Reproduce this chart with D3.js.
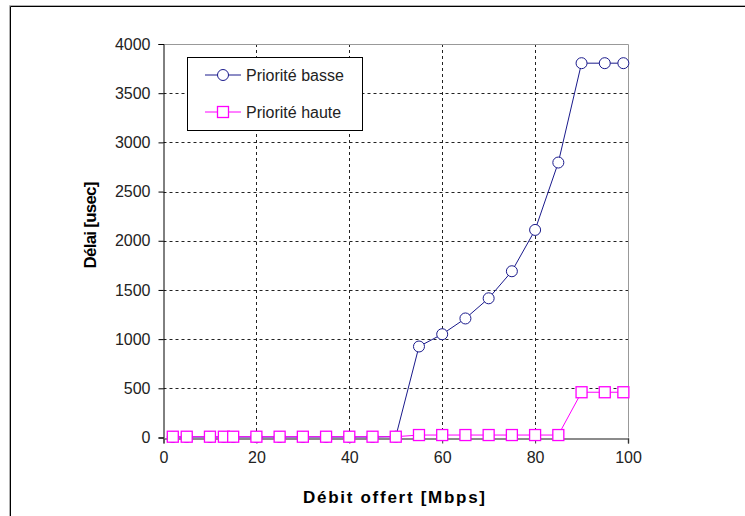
<!DOCTYPE html>
<html>
<head>
<meta charset="utf-8">
<script src="https://cdn.jsdelivr.net/npm/d3@7"></script>
<style>
  html, body { margin: 0; padding: 0; background: #fff; }
  svg { display: block; font-family: "Liberation Sans", Arial, sans-serif; }
</style>
</head>
<body>
<svg id="chart" width="745" height="516"></svg>
<script>
// Offered throughput (Mbps) at each measurement point
const debit = [2, 5, 10, 13, 15, 20, 25, 30, 35, 40, 45, 50, 55, 60, 65, 70, 75, 80, 85, 90, 95, 99];
// Delay (usec) for low-priority traffic
const prioriteBasse = [5, 5, 5, 5, 5, 5, 5, 5, 5, 5, 5, 8, 925, 1050, 1210, 1415, 1690, 2110, 2795, 3805, 3805, 3805];
// Delay (usec) for high-priority traffic
const prioriteHaute = [8, 8, 8, 8, 8, 8, 8, 8, 8, 8, 8, 8, 25, 25, 25, 25, 25, 25, 25, 460, 460, 460];
const xTicks = [0, 20, 40, 60, 80, 100];
const yTicks = [0, 500, 1000, 1500, 2000, 2500, 3000, 3500, 4000];
const seriesNames = ["Priorité basse", "Priorité haute"];

const svg = d3.select("#chart");

// outer frame with a light shadow on the top/left edge
svg.append("path").attr("d", "M9.5,516 V5.5 H745").attr("fill", "none").attr("stroke", "#b0b0b0");
svg.append("path").attr("d", "M10.5,516 V6.5 H745").attr("fill", "none").attr("stroke", "#000");

const x = d3.scaleLinear().domain([0, 100]).range([163.5, 628]);
const y = d3.scaleLinear().domain([0, 4000]).range([437.5, 44]);

const g = svg.append("g");

// dashed grid
g.selectAll(".vgrid").data(xTicks.filter(d => d > 0 && d < 100)).join("line")
  .attr("x1", d => Math.round(x(d)) + 0.5).attr("x2", d => Math.round(x(d)) + 0.5)
  .attr("y1", y(4000)).attr("y2", y(0))
  .attr("stroke", "#222").attr("stroke-dasharray", "3,3");
g.selectAll(".hgrid").data(yTicks.filter(d => d > 0 && d < 4000)).join("line")
  .attr("x1", x(0)).attr("x2", x(100))
  .attr("y1", d => Math.round(y(d)) + 0.5).attr("y2", d => Math.round(y(d)) + 0.5)
  .attr("stroke", "#222").attr("stroke-dasharray", "3,3");

// plot-area border (top and right)
g.append("path")
  .attr("d", `M${x(0)},${Math.round(y(4000)) + 0.5} H${Math.round(x(100)) + 0.5} V${y(0)}`)
  .attr("fill", "none").attr("stroke", "#999");

// axes
const fmt = d3.format("d");
const xAxis = d3.axisBottom(x).tickValues(xTicks).tickFormat(fmt).tickSize(5).tickPadding(8);
const yAxis = d3.axisLeft(y).tickValues(yTicks).tickFormat(fmt).tickSize(5).tickPadding(8);

const gx = svg.append("g").attr("transform", `translate(0,${Math.round(y(0)) + 0.5})`).call(xAxis);
gx.select(".domain").attr("stroke", "#666").attr("stroke-width", 1.5);
gx.selectAll(".tick line").attr("stroke", "#333");
gx.selectAll(".tick text").attr("font-size", 16).attr("fill", "#222")
  .attr("font-family", "'Liberation Sans', Arial, sans-serif");

const gy = svg.append("g").attr("transform", `translate(${Math.round(x(0)) - 0.5},0)`).call(yAxis);
gy.select(".domain").attr("stroke", "#000");
gy.selectAll(".tick line").attr("stroke", "#000");
gy.selectAll(".tick text").attr("font-size", 16).attr("fill", "#222")
  .attr("font-family", "'Liberation Sans', Arial, sans-serif");

// series
const line = d3.line().x(d => x(d[0])).y(d => y(d[1]));
const basse = debit.map((d, i) => [d, prioriteBasse[i]]);
const haute = debit.map((d, i) => [d, prioriteHaute[i]]);

const navy = "#1a1a8c";
const magenta = "#ff00ff";

svg.append("path").datum(basse).attr("d", line).attr("fill", "none").attr("stroke", navy).attr("stroke-width", 1);
svg.selectAll(".pt-basse").data(basse).join("circle")
  .attr("cx", d => x(d[0])).attr("cy", d => y(d[1])).attr("r", 5.5)
  .attr("fill", "#fff").attr("stroke", navy).attr("stroke-width", 1);

svg.append("path").datum(haute).attr("d", line).attr("fill", "none").attr("stroke", magenta).attr("stroke-width", 1);
svg.selectAll(".pt-haute").data(haute).join("rect")
  .attr("x", d => x(d[0]) - 5.5).attr("y", d => y(d[1]) - 5.5)
  .attr("width", 11).attr("height", 11)
  .attr("fill", "#fff").attr("stroke", magenta).attr("stroke-width", 1.3);

// legend
const lg = svg.append("g");
lg.append("rect").attr("x", 187.5).attr("y", 57.5).attr("width", 175).attr("height", 73)
  .attr("fill", "#fff").attr("stroke", "#000");
const rows = [75, 112];
seriesNames.forEach((name, i) => {
  const col = i === 0 ? navy : magenta;
  lg.append("line").attr("x1", 205).attr("x2", 241).attr("y1", rows[i]).attr("y2", rows[i])
    .attr("stroke", col);
  if (i === 0) {
    lg.append("circle").attr("cx", 223).attr("cy", rows[i]).attr("r", 5.5)
      .attr("fill", "#fff").attr("stroke", col);
  } else {
    lg.append("rect").attr("x", 217.5).attr("y", rows[i] - 5.5).attr("width", 11).attr("height", 11)
      .attr("fill", "#fff").attr("stroke", col).attr("stroke-width", 1.3);
  }
  lg.append("text").attr("x", 246).attr("y", rows[i]).attr("dy", "0.35em")
    .attr("font-size", 16).attr("fill", "#222").text(name);
});

// axis titles
svg.append("text").attr("x", 394).attr("y", 503).attr("text-anchor", "middle")
  .attr("font-size", 17).attr("font-weight", "bold").attr("fill", "#000")
  .attr("textLength", 182).attr("lengthAdjust", "spacing")
  .text("Débit offert [Mbps]");
svg.append("text").attr("transform", "translate(96,225) rotate(-90)").attr("text-anchor", "middle")
  .attr("font-size", 17).attr("font-weight", "bold").attr("fill", "#000")
  .attr("textLength", 87).attr("lengthAdjust", "spacing")
  .text("Délai [usec]");
</script>
</body>
</html>
